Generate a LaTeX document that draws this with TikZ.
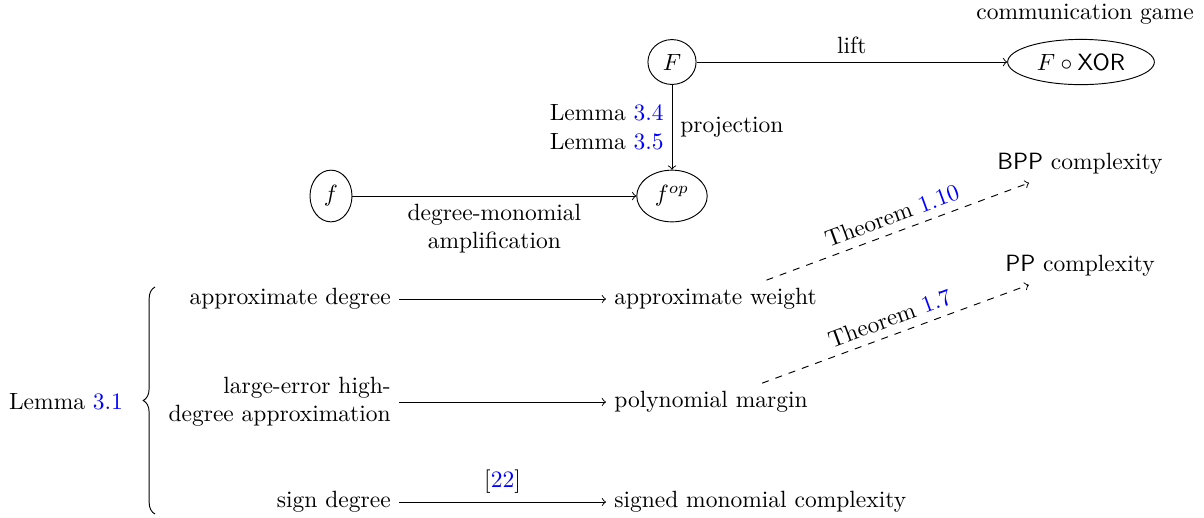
\documentclass[tikz,border=0pt]{standalone}
\usetikzlibrary{decorations.pathreplacing,shapes.geometric}
\definecolor{refblue}{RGB}{0,0,255}
\newcommand{\rf}[1]{\textcolor{refblue}{#1}}
\begin{document}
\begin{tikzpicture}[x=0.4255pt,y=-0.4255pt,
  fn/.style={draw, ellipse},
  arr/.style={->},
  darr/.style={->, dashed}]
\useasboundingbox (0,0) rectangle (1204,517);
\node[fn] (F) at (672,62) {$F$};
\node[fn] (FX) at (1081,62) {$F\circ\mathsf{XOR}$};
\node (comm) at (1085,14) {communication game};
\node[fn] (f) at (331,196) {$f$};
\node[fn] (fop) at (672,196) {$f^{op}$};
\draw[arr] (F) -- node[above] {lift} (FX);
\draw[arr] (F) -- node[left, align=right] {Lemma \rf{3.4}\\Lemma \rf{3.5}} node[right] {projection} (fop);
\draw[arr] (f) -- node[below, align=center] {degree-monomial\\amplification} (fop);

\node[anchor=east] (ad) at (399,299) {approximate degree};
\node[anchor=east, align=right] (le) at (399,402) {large-error high-\\degree approximation};
\node[anchor=east] (sd) at (399,502) {sign degree};
\node[anchor=west] (aw) at (606,299) {approximate weight};
\node[anchor=west] (pm) at (606,402) {polynomial margin};
\node[anchor=west] (smc) at (606,502) {signed monomial complexity};
\draw[arr] (ad) -- (aw);
\draw[arr] (le) -- (pm);
\draw[arr] (sd) -- node[above] {[\rf{22}]} (smc);

\node (bpp) at (1080,164) {\textsf{BPP} complexity};
\node (pp) at (1080,266) {\textsf{PP} complexity};
\draw[darr] (aw) -- node[above, sloped] {Theorem \rf{1.10}} (bpp);
\draw[darr] (pm) -- node[above, sloped] {Theorem \rf{1.7}} (pp);

\coordinate (bt) at (155,287);
\coordinate (bb) at (155,514);
\draw[decorate, decoration={brace, amplitude=5pt}] (bb) -- (bt);
\node (lem) at (66,402) {Lemma \rf{3.1}};
\end{tikzpicture}
\end{document}
